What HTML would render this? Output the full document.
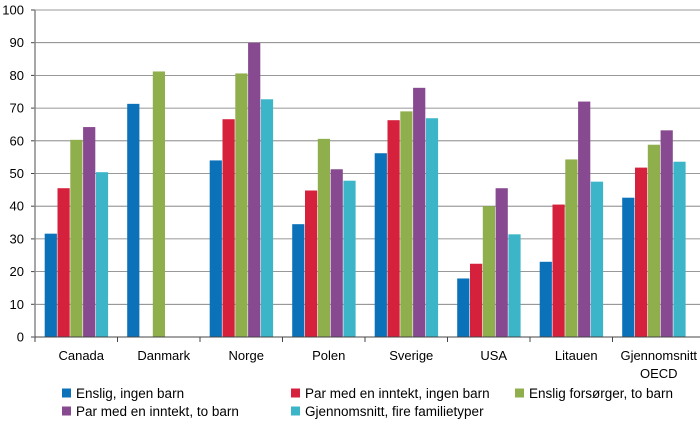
<!DOCTYPE html>
<html><head><meta charset="utf-8"><style>
body{margin:0;background:#fff;font-family:"Liberation Sans",sans-serif}
</style></head><body>
<svg id="c" width="700" height="420" xmlns="http://www.w3.org/2000/svg"></svg>
<script>
const categories=["Canada","Danmark","Norge","Polen","Sverige","USA","Litauen","Gjennomsnitt|OECD"];
const seriesNames=["Enslig, ingen barn","Par med en inntekt, ingen barn","Enslig forsørger, to barn","Par med en inntekt, to barn","Gjennomsnitt, fire familietyper"];
const s1=[31.6,71.3,54,34.5,56.2,17.9,23,42.6];
const s2=[45.5,null,66.6,44.8,66.3,22.4,40.5,51.8];
const s3=[60.3,81.2,80.6,60.6,69,40,54.3,58.8];
const s4=[64.2,null,90,51.3,76.2,45.5,72,63.2];
const s5=[50.4,null,72.7,47.8,66.9,31.4,47.5,53.6];
const yTicks=[0,10,20,30,40,50,60,70,80,90,100];
const colors=["#0b72b9","#d5213c","#8fae4c","#87498f","#3db5c9"];
const series=[s1,s2,s3,s4,s5];
const svg=document.getElementById('c');const NS="http://www.w3.org/2000/svg";
const X0=35,X1=700,Y0=337,Y1=10,GW=82.5;
const y=v=>Y0-(v/100)*(Y0-Y1);
const xg=i=>X0+i*GW;
function mk(t,a,p){const e=document.createElementNS(NS,t);for(const k in a)e.setAttribute(k,a[k]);(p||svg).appendChild(e);return e;}
yTicks.forEach(t=>{
 if(t>0){const g=mk('line',{x1:X0,x2:X1,y1:y(t),y2:y(t),stroke:'#777','stroke-width':0.8});
 
 }
 const l=mk('text',{x:24,y:y(t)+4.5,'text-anchor':'end','font-size':13,fill:'#000'});l.textContent=t;
 
 
 mk('line',{x1:X0-4,x2:X0,y1:y(t),y2:y(t),stroke:'#444'});
});
series.forEach((s,si)=>{s.forEach((v,i)=>{if(v==null)return;
 const b=mk('rect',{x:xg(i)+9.7+si*12.8,y:y(v),width:12.2,height:Y0-y(v),fill:colors[si]});
 
 
});});
mk('line',{x1:X0,x2:X0,y1:Y1,y2:Y0,stroke:'#888','stroke-width':1.5});
mk('line',{x1:X0,x2:X1,y1:Y0,y2:Y0,stroke:'#444'});
categories.forEach((c,i)=>{
 mk('line',{x1:xg(i),x2:xg(i),y1:Y0,y2:Y0+5,stroke:'#444'});
 c.split('|').forEach((p,k)=>{const t=mk('text',{x:xg(i)+GW/2+5,y:360+k*18,'text-anchor':'middle','font-size':13});t.textContent=p;
 
 });
});
const lp=[[62,393],[291,393],[515,393],[62,411],[291,411]];
seriesNames.forEach((n,i)=>{
 const g=mk('g',{});
 
 
 mk('rect',{x:lp[i][0],y:lp[i][1]-4.5,width:9,height:9,fill:colors[i]},g);
 const t=mk('text',{x:lp[i][0]+14,y:lp[i][1]+5,'font-size':13.5},g);t.textContent=n;
});
</script>
</body></html>
